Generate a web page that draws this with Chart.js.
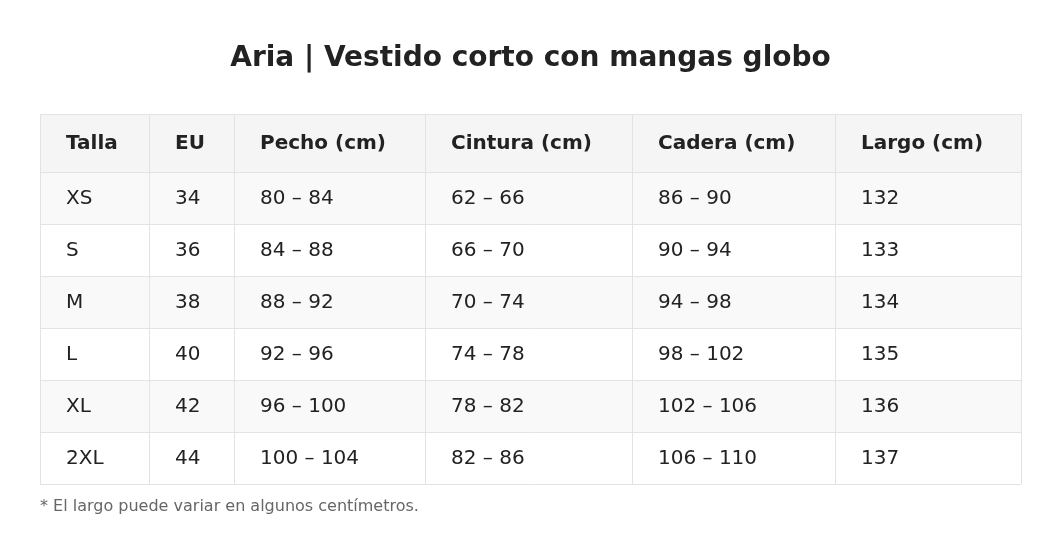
<!DOCTYPE html>
<html><head><meta charset="utf-8">
<script src="https://cdn.jsdelivr.net/npm/chart.js@4/dist/chart.umd.min.js"></script>
<style>html,body{margin:0;padding:0;background:#fff}#c{display:block}</style>
</head><body>
<div style="width:1061px;height:557px"><canvas id="c"></canvas></div>
<script>
const title = "Aria | Vestido corto con mangas globo";
const headers = ["Talla","EU","Pecho (cm)","Cintura (cm)","Cadera (cm)","Largo (cm)"];
const tallas = ["XS","S","M","L","XL","2XL"];
const eu = ["34","36","38","40","42","44"];
const pecho = ["80 – 84","84 – 88","88 – 92","92 – 96","96 – 100","100 – 104"];
const cintura = ["62 – 66","66 – 70","70 – 74","74 – 78","78 – 82","82 – 86"];
const cadera = ["86 – 90","90 – 94","94 – 98","98 – 102","102 – 106","106 – 110"];
const largo = ["132","133","134","135","136","137"];
const footnote = "* El largo puede variar en algunos centímetros.";

const colFrac = [109,85,191,207,203,186];
const FONT = "'DejaVu Sans', sans-serif";

const tablePlugin = {
  id: 'table',
  afterDraw(chart) {
    const ctx = chart.ctx, a = chart.chartArea;
    const cols = [tallas, eu, pecho, cintura, cadera, largo];
    const tot = colFrac.reduce((s,v)=>s+v,0);
    const xs = [a.left];
    colFrac.forEach(f => xs.push(xs[xs.length-1] + f / tot * (a.right - a.left)));
    const headH = 58, rowH = (a.bottom - a.top - headH) / tallas.length;
    ctx.save();
    ctx.fillStyle = '#222';
    ctx.font = "bold 28px " + FONT;
    ctx.textAlign = 'center'; ctx.textBaseline = 'middle';
    ctx.fillText(title, chart.width / 2, 59);
    // backgrounds
    ctx.fillStyle = '#f5f5f5';
    ctx.fillRect(a.left, a.top, a.right - a.left, headH);
    for (let r = 0; r < tallas.length; r++) {
      ctx.fillStyle = r % 2 === 0 ? '#f9f9f9' : '#ffffff';
      ctx.fillRect(a.left, a.top + headH + r * rowH, a.right - a.left, rowH);
    }
    // grid
    ctx.strokeStyle = '#e3e3e3'; ctx.lineWidth = 1;
    ctx.beginPath();
    for (let r = 0; r <= tallas.length + 1; r++) {
      const y = Math.round(r === 0 ? a.top : a.top + headH + (r - 1) * rowH) + 0.5;
      ctx.moveTo(a.left, y); ctx.lineTo(a.right, y);
    }
    xs.forEach(x => { const xx = Math.round(x) + 0.5; ctx.moveTo(xx, a.top); ctx.lineTo(xx, a.bottom); });
    ctx.stroke();
    // text
    ctx.textAlign = 'left';
    ctx.fillStyle = '#222';
    ctx.font = "bold 20px " + FONT;
    headers.forEach((h, c) => ctx.fillText(h, xs[c] + 26, a.top + headH / 2 + 1));
    ctx.font = "20px " + FONT;
    cols.forEach((col, c) => col.forEach((v, r) => ctx.fillText(v, xs[c] + 26, a.top + headH + r * rowH + rowH / 2 + 1)));
    ctx.fillStyle = '#666';
    ctx.font = "16px " + FONT;
    ctx.fillText(footnote, a.left, a.bottom + 23);
    ctx.restore();
  }
};

new Chart(document.getElementById('c'), {
  type: 'bar',
  data: { labels: tallas, datasets: [{ data: [] }] },
  options: {
    responsive: true, maintainAspectRatio: false, animation: false,
    layout: { padding: { left: 40, right: 40, top: 114, bottom: 73 } },
    plugins: { legend: { display: false }, tooltip: { enabled: false } },
    scales: { x: { display: false }, y: { display: false } }
  },
  plugins: [tablePlugin]
});
</script>
</body></html>
